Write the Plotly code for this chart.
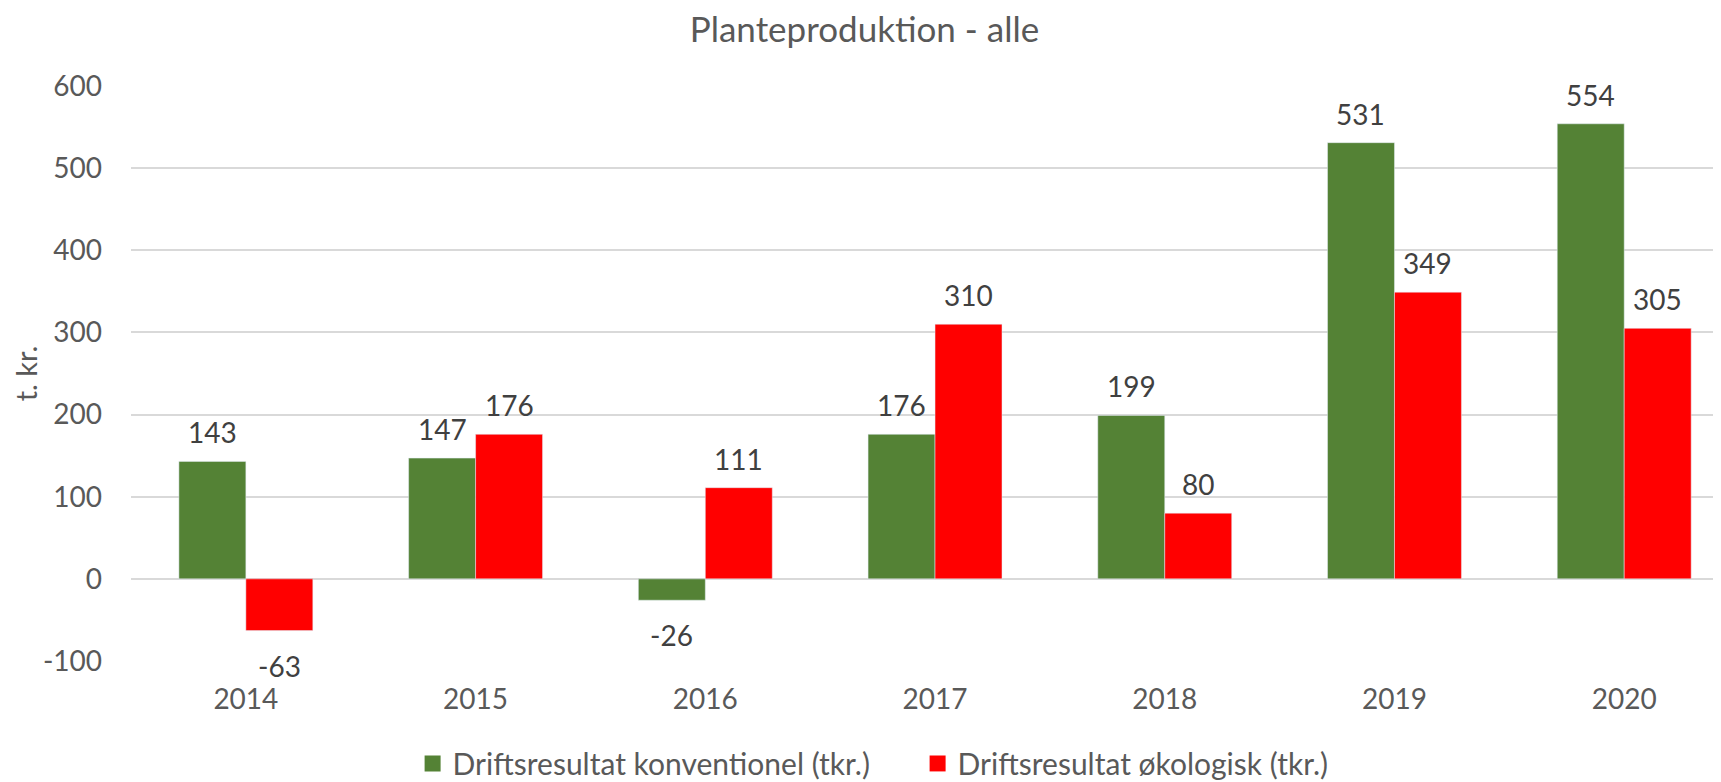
import plotly.graph_objects as go

years = ["2014", "2015", "2016", "2017", "2018", "2019", "2020"]
konventionel = [143, 147, -26, 176, 199, 531, 554]
okologisk = [-63, 176, 111, 310, 80, 349, 305]
yticks = [-100, 0, 100, 200, 300, 400, 500, 600]

font = "Lato, Open Sans, sans-serif"
green = "#548235"
red = "#FF0000"
names = ["Driftsresultat konventionel (tkr.)", "Driftsresultat økologisk (tkr.)"]

fig = go.Figure()
fig.add_trace(go.Bar(x=years, y=konventionel, name=names[0], marker_color=green,
                     showlegend=False))
fig.add_trace(go.Bar(x=years, y=okologisk, name=names[1], marker_color=red,
                     showlegend=False))
# legend-only entries, so the swatches can be bigger squares
for nm, col in zip(names, [green, red]):
    fig.add_trace(go.Scatter(x=[None], y=[None], mode="markers", name=nm,
                             marker=dict(symbol="square", size=16, color=col)))

# data labels, shifted onto each bar of the group (x given as category index)
for series, dx in [(konventionel, -33.5), (okologisk, 33.5)]:
    for i, v in enumerate(series):
        fig.add_annotation(x=i, y=v, xref="x", yref="y", text=str(v), showarrow=False,
                           xshift=dx, yanchor="bottom" if v >= 0 else "top",
                           yshift=10 if v >= 0 else -16,
                           font=dict(size=28, color="#404040", family=font))

# the page body has an 8px margin, so paper is shrunk and margins shifted
fig.update_layout(
    width=1713, height=774,
    paper_bgcolor="white", plot_bgcolor="white",
    font=dict(family=font, color="#595959", size=28),
    title=dict(text="Planteproduktion - alle", x=0.5, xanchor="center", xref="container",
               y=0.972, yanchor="middle", yref="container",
               font=dict(size=35, color="#595959")),
    barmode="group", bargap=0.417, bargroupgap=0,
    margin=dict(l=123, r=1, t=78, b=121),
    legend=dict(orientation="h", x=0.531, xanchor="center", xref="container",
                y=0.024, yanchor="middle", yref="container",
                entrywidth=460, entrywidthmode="pixels", itemsizing="trace",
                font=dict(size=30, color="#595959")),
    showlegend=True,
)
fig.update_yaxes(range=[-100, 600], tickvals=yticks, ticktext=[str(t) for t in yticks],
                 showgrid=True, gridcolor="#D9D9D9",
                 gridwidth=2, zeroline=True, zerolinecolor="#D9D9D9", zerolinewidth=2,
                 title=dict(text="t. kr.", font=dict(size=29, color="#595959"), standoff=0),
                 ticks="", ticklabelstandoff=28, tickfont=dict(size=28), automargin=False)
# the original plot area runs a little past the right edge of the picture
fig.update_xaxes(type="category", range=[-0.5, len(years) - 0.583], showgrid=False,
                 showline=False, ticks="", ticklabelstandoff=19, tickfont=dict(size=28),
                 automargin=False)

fig.write_html("out.html")
